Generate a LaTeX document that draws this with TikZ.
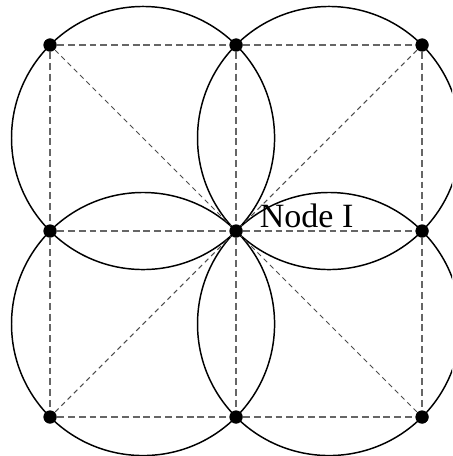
\documentclass[tikz,border=0pt]{standalone}
\usepackage{fontspec}
\setmainfont{Liberation Serif}
\usetikzlibrary{calc}

\begin{document}
\begin{tikzpicture}[
  dot/.style={circle, fill=black, inner sep=0pt, minimum size=1.4mm},
  ring/.style={line width=0.45pt, draw=black},
  edge/.style={line width=0.4pt, draw=black!60, dash pattern=on 2.1pt off 1.2pt},
  diag/.style={line width=0.3pt, draw=black!70, dash pattern=on 1.5pt off 1.2pt},
]
\useasboundingbox (-2.538,-2.419) rectangle (2.323,2.484);
\clip (-2.538,-2.419) rectangle (2.323,2.484);

% ---- Grid nodes -------------------------------------------------------------
\foreach \i in {0,1,2} {
  \foreach \j in {0,1,2} {
    \node[dot] (n\i\j) at ({2*\i-2},{2-2*\j}) {};
  }
}

% ---- Circles through the corners of each cell --------------------------------
\foreach \i/\j in {0/0,1/0,0/1,1/1} {
  \pgfmathtruncatemacro{\k}{\i+1}
  \pgfmathtruncatemacro{\l}{\j+1}
  \coordinate (c\i\j) at ($(n\i\j)!0.5!(n\k\l)$);
  \draw[ring] (c\i\j) circle (1.4142);
}

% ---- Dashed grid ------------------------------------------------------------
\foreach \j in {0,1,2} {
  \draw[edge] (n0\j) -- (n1\j);
  \draw[edge] (n1\j) -- (n2\j);
}
\foreach \i in {0,1,2} {
  \draw[edge] (n\i0) -- (n\i1);
  \draw[edge] (n\i1) -- (n\i2);
}

% ---- Diagonals to the centre ------------------------------------------------
\foreach \c in {00,20,02,22}
  \draw[diag] (n\c) -- (n11);

% redraw dots on top
\foreach \i in {0,1,2} {
  \foreach \j in {0,1,2} {
    \fill (n\i\j) circle (0.07);
  }
}

% ---- Label ------------------------------------------------------------------
\node[anchor=base west, inner sep=0pt, font=\fontsize{10.4}{12}\selectfont]
  (lbl) at ($(n11)+(0.25,0.04)$) {Node I};

\end{tikzpicture}
\end{document}
